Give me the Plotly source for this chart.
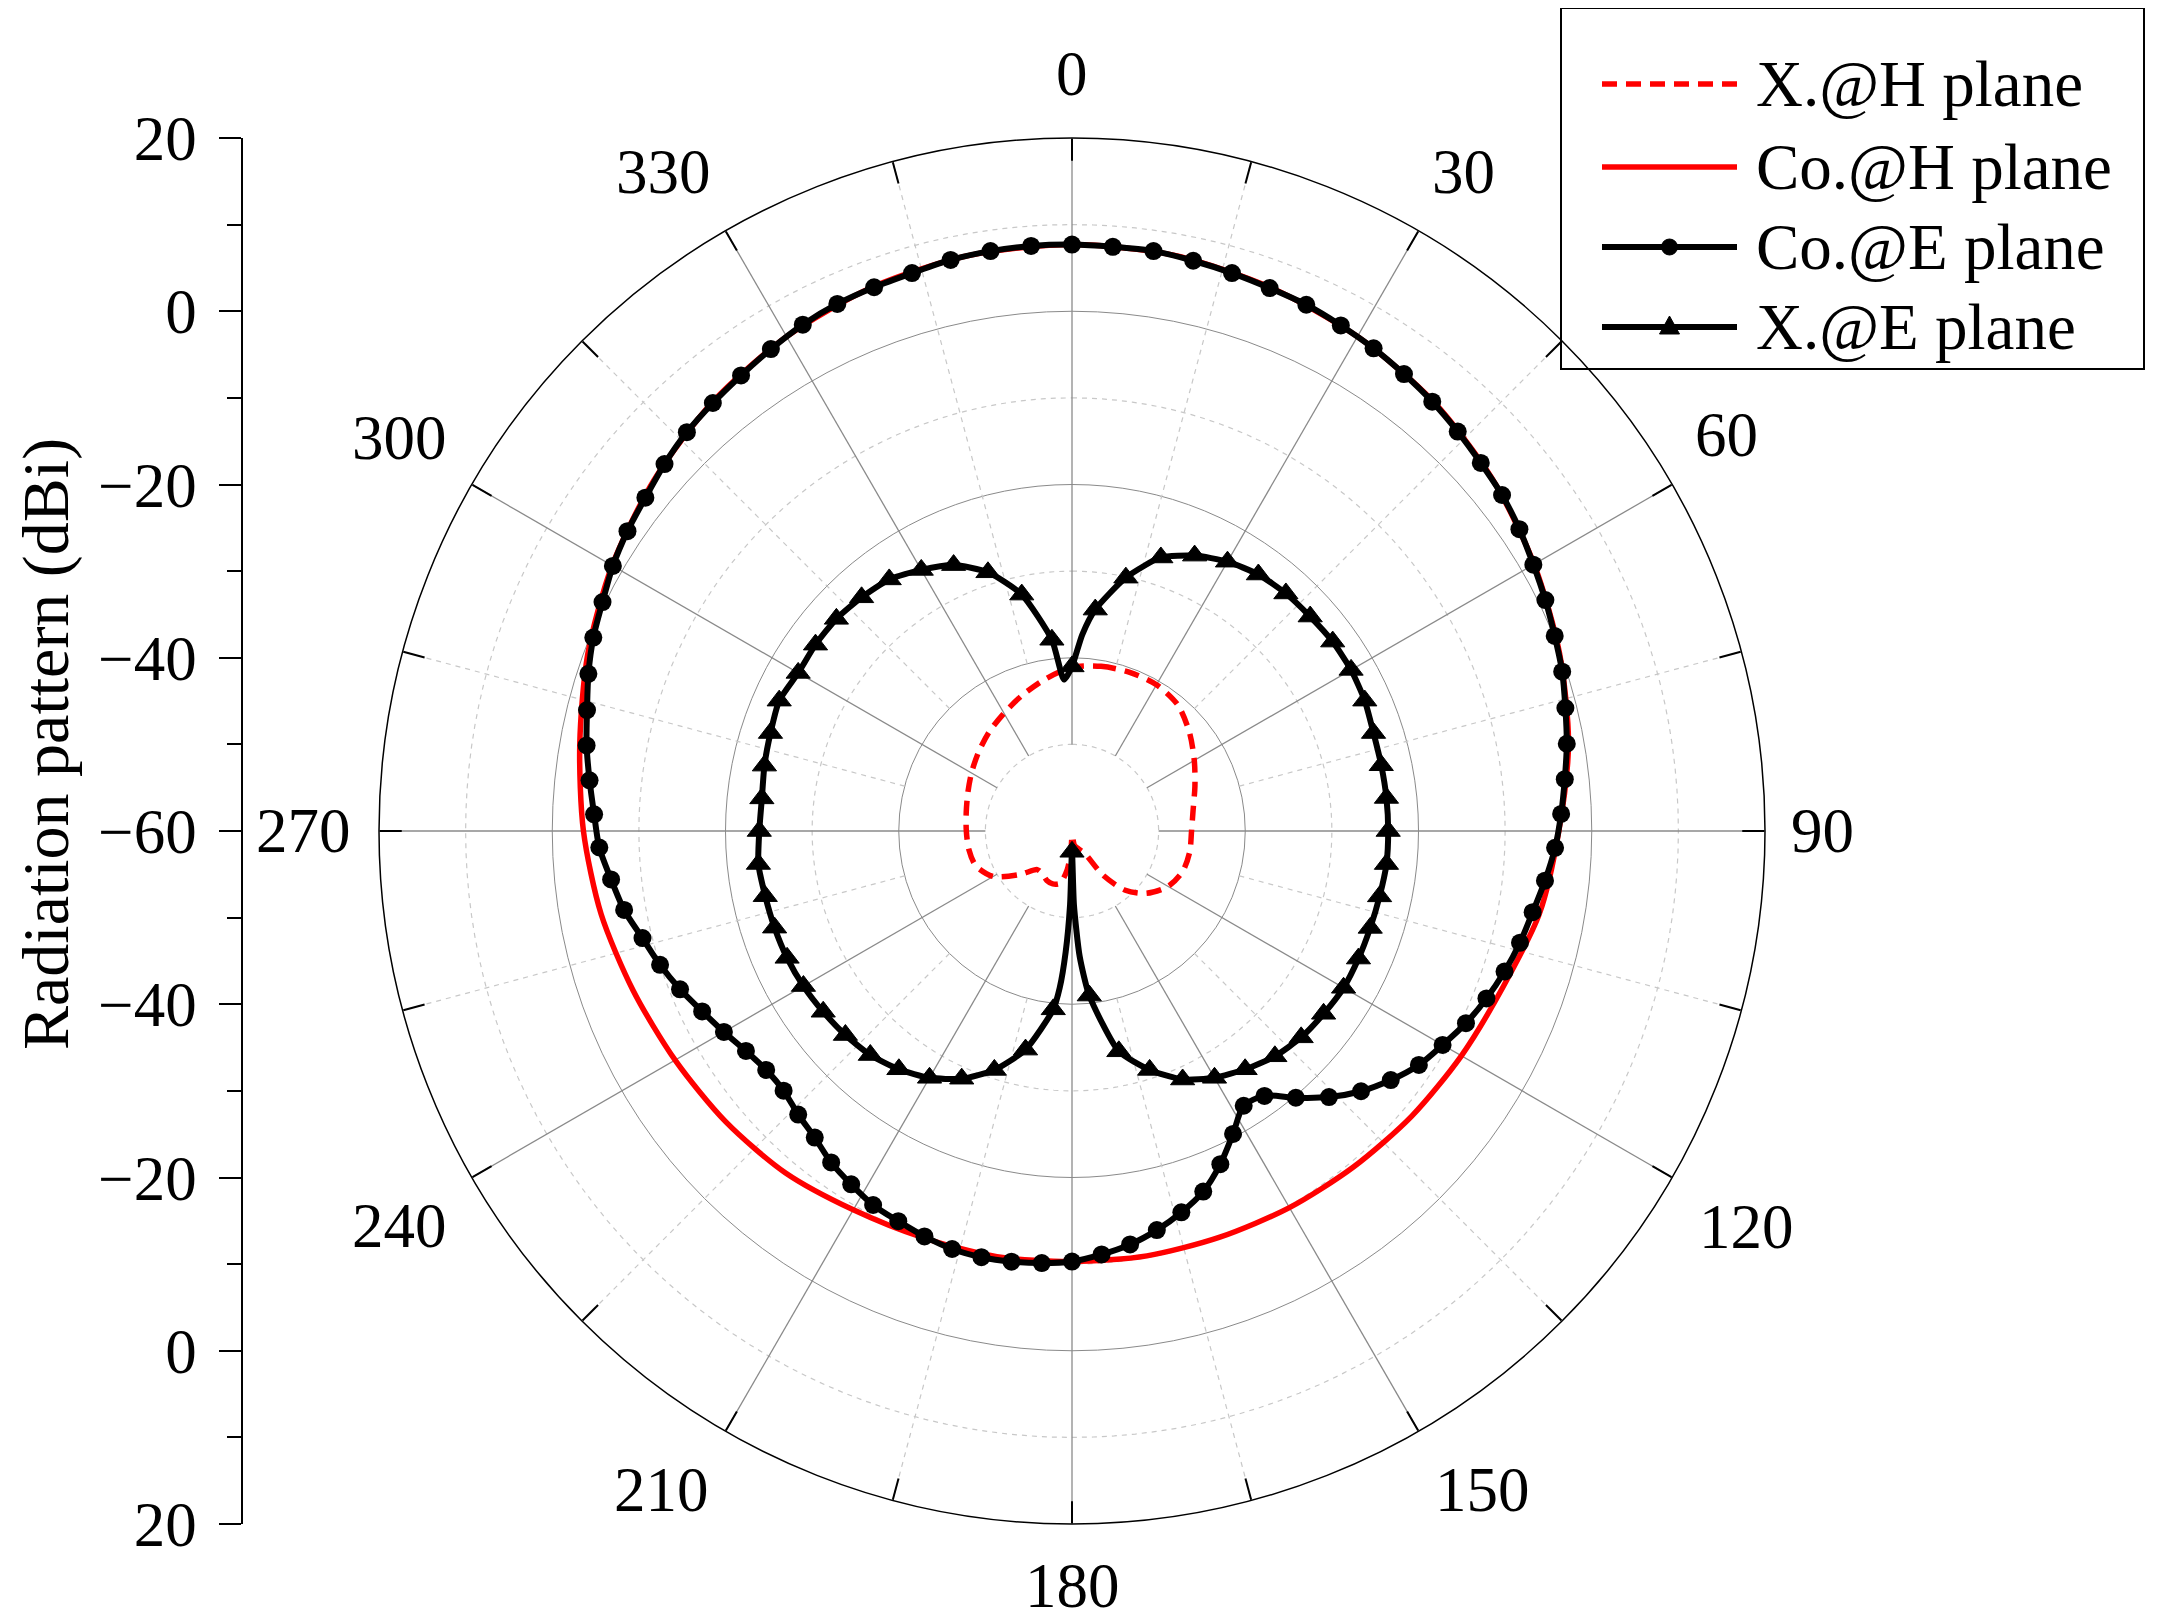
import math
import plotly.graph_objects as go

# ---- data ----
co_e_theta = list(range(0, 360, 4))
co_e_db = [7.7, 7.6, 7.6, 7.3, 7.0, 6.7, 6.5, 6.1, 5.7, 5.2, 4.7, 4.1, 3.5, 3.0, 2.3,
           1.5, 0.8, 0.1, -0.5, -1.3, -2.0, -2.8, -3.5, -4.2, -5.1, -6.0, -6.7, -7.5,
           -8.4, -9.4, -10.6, -11.7, -13.3, -15.1, -17.3, -19.8, -22.2, -22.6, -20.4,
           -17.9, -15.7, -14.2, -12.9, -11.8, -11.0, -10.3, -10.0, -9.8, -9.7, -9.8,
           -10.2, -10.7, -11.1, -11.9, -12.7, -13.8, -14.5, -15.2, -15.2, -14.6, -13.6,
           -12.5, -11.2, -10.0, -8.9, -7.5, -6.5, -5.4, -4.8, -4.0, -3.1, -2.3, -1.3,
           -0.4, 0.3, 1.2, 1.9, 2.5, 3.3, 4.0, 4.5, 5.0, 5.6, 6.2, 6.6, 6.8, 7.0, 7.4,
           7.6, 7.7]

x_e_theta = [0, 3, 6, 12, 18, 24, 30, 36, 42, 48, 54, 60, 66, 72, 78, 84, 90, 96, 102,
             108, 114, 120, 126, 132, 138, 144, 150, 156, 162, 168, 174, 176.5, 178.5,
             180, 181.5, 183, 184.5, 186, 192, 198, 204, 210, 216, 222, 228, 234, 240,
             246, 252, 258, 264, 270, 276, 282, 288, 294, 300, 306, 312, 318, 324, 330,
             336, 342, 348, 354, 357]
x_e_db = [-41.0, -37.3, -34.3, -30.1, -26.8, -25.2, -24.1, -23.4, -23.1, -23.0, -22.8,
          -22.8, -23.0, -23.4, -23.5, -23.5, -23.5, -23.5, -23.7, -23.8, -23.8, -23.8,
          -24.1, -24.4, -25.0, -26.0, -27.1, -28.6, -31.0, -34.0, -40.9, -45.5, -51.5,
          -57.6, -51.5, -46.0, -41.8, -39.3, -34.2, -31.0, -28.7, -27.1, -26.0, -25.2,
          -24.8, -24.5, -24.2, -24.0, -23.9, -23.8, -23.6, -23.9, -24.0, -23.7, -23.4,
          -23.0, -23.5, -23.4, -23.4, -23.7, -24.1, -25.2, -26.4, -28.6, -32.1, -37.8,
          -42.5]

co_h_theta = list(range(0, 360, 10))
co_h_db = [7.7, 7.5, 6.8, 5.9, 4.8, 3.3, 1.6, -0.1, -1.8, -3.8, -5.2, -7.1, -8.1, -8.8,
           -9.4, -9.8, -10.1, -10.2, -10.3, -10.1, -10.0, -9.5, -8.5, -7.8, -7.1, -6.1,
           -4.8, -3.6, -2.3, -0.5, 1.3, 3.0, 4.6, 5.9, 6.9, 7.5]

x_h_theta = [0, 10, 20, 30, 40, 50, 60, 70, 80, 90, 100, 110, 120, 130, 138, 145, 150,
             160, 170, 178, 183, 187, 193, 200, 207, 215, 222, 230, 240, 250, 260,
             270, 280, 290, 300, 310, 320, 330, 340, 350]
x_h_db = [-41.1, -40.7, -40.5, -40.5, -41.0, -42.3, -43.7, -44.9, -45.8, -46.2, -46.2,
          -46.4, -47.2, -48.8, -50.8, -53.8, -56.9, -57.8, -58.3, -59.5, -58.0, -55.5,
          -53.8, -53.5, -53.6, -54.0, -54.0, -52.2, -49.5, -48.2, -47.9, -47.8,
          -47.6, -47.2, -46.6, -45.9, -45.1, -44.3, -43.3, -42.2]

ruler_text = ["20", "0", "\u221220", "\u221240", "\u221260", "\u221240", "\u221220", "0", "20"]
angle_labels = [0, 30, 60, 90, 120, 150, 180, 210, 240, 270, 300, 330]
series_names = ["X.@H plane", "Co.@H plane", "Co.@E plane", "X.@E plane"]

# ---- layout constants (pixels, measured in the reference frame) ----
W, H = 2160, 1623
OFF = 8                      # page body margin shifts the figure by this much
CX, CY, R = 1072, 831, 693
ML = 192
MT = CY - OFF - R
MB = H - (CY - OFF + R)
PW, PH = W - ML, H - MT - MB
R_MIN, R_MAX = -60, 20
FONT = "Liberation Serif"
FS = 63
RED = "#ff0000"
GRID = "#8a8a8a"
GRID_LIGHT = "#c8c8c8"
DASH = "15px,9px"

# where the rim labels sit: (angle of label centre, distance from centre)
label_pos = {0: (0, 757), 30: (30.7, 766), 60: (58.8, 765), 90: (90, 750),
             120: (120.4, 782), 150: (148.1, 776), 180: (180, 755), 210: (211.9, 776),
             240: (239.6, 780), 270: (270, 769), 300: (300.3, 779), 330: (328.2, 775)}


def px_x(px):
    return (px - OFF - ML) / PW


def px_y(py):
    return 1 - (py - OFF - MT) / PH


def closed(theta, r):
    return list(theta) + [theta[0] + 360], list(r) + [r[0]]


fig = go.Figure()

# dashed grid circles and spokes (solid spokes start at -50, dashed at -40)
ring_theta = list(range(0, 361, 2))
for lev in [-50, -30, -10, 10]:
    fig.add_trace(go.Scatterpolar(r=[lev] * len(ring_theta), theta=ring_theta, mode="lines",
                                  line=dict(color=GRID_LIGHT, width=1.2, dash="5px,5px"),
                                  hoverinfo="skip", showlegend=False))
for a in range(0, 360, 30):
    fig.add_trace(go.Scatterpolar(r=[-50, R_MAX], theta=[a, a], mode="lines",
                                  line=dict(color=GRID, width=1.3),
                                  hoverinfo="skip", showlegend=False))
    fig.add_trace(go.Scatterpolar(r=[-40, R_MAX], theta=[a + 15, a + 15], mode="lines",
                                  line=dict(color=GRID_LIGHT, width=1.2, dash="5px,5px"),
                                  hoverinfo="skip", showlegend=False))

# data curves
t, r = closed(x_h_theta, x_h_db)
fig.add_trace(go.Scatterpolar(r=r, theta=t, mode="lines", name=series_names[0],
                              line=dict(color=RED, width=5.5, dash=DASH, shape="spline", smoothing=0.8),
                              showlegend=False))
t, r = closed(co_h_theta, co_h_db)
fig.add_trace(go.Scatterpolar(r=r, theta=t, mode="lines", name=series_names[1],
                              line=dict(color=RED, width=5.5, shape="spline", smoothing=0.8),
                              showlegend=False))

# X.@E: line through every point, triangles on the 6-degree samples
t, r = closed(x_e_theta, x_e_db)
fig.add_trace(go.Scatterpolar(r=r, theta=t, mode="lines", name=series_names[3],
                              line=dict(color="black", width=6, shape="spline", smoothing=0.6),
                              showlegend=False))
tri_t = [tt for tt in x_e_theta if tt % 6 == 0]
tri_r = [rr for tt, rr in zip(x_e_theta, x_e_db) if tt % 6 == 0]
fig.add_trace(go.Scatterpolar(r=tri_r, theta=tri_t, mode="markers", name=series_names[3],
                              marker=dict(symbol="triangle-up", size=21, color="black",
                                          line=dict(color="black", width=1)),
                              showlegend=False))

t, r = closed(co_e_theta, co_e_db)
fig.add_trace(go.Scatterpolar(r=r, theta=t, mode="lines", name=series_names[2],
                              line=dict(color="black", width=6, shape="spline", smoothing=0.8),
                              showlegend=False))
fig.add_trace(go.Scatterpolar(r=co_e_db, theta=co_e_theta, mode="markers", name=series_names[2],
                              marker=dict(symbol="circle", size=18, color="black"),
                              showlegend=False))

# empty trace so the left ruler axis gets drawn
fig.add_trace(go.Scatter(x=[], y=[], xaxis="x", yaxis="y", showlegend=False))

# rim labels
annotations = []
for a in angle_labels:
    ang, rl = label_pos[a]
    annotations.append(dict(text=str(a), x=px_x(CX + rl * math.sin(math.radians(ang))),
                            y=px_y(CY - rl * math.cos(math.radians(ang))),
                            xref="paper", yref="paper", xanchor="center", yanchor="middle",
                            showarrow=False, font=dict(family=FONT, size=FS, color="black")))

annotations.append(dict(text="Radiation pattern (dBi)", textangle=-90, x=px_x(46), y=px_y(744),
                        xref="paper", yref="paper", xanchor="center", yanchor="middle",
                        showarrow=False, font=dict(family=FONT, size=66, color="black")))

# hand-built legend
leg_rows = [84, 167, 247, 327]
LX0, LX1, LXT = 1602, 1737, 1754
LXM = (LX0 + LX1) / 2
shapes = [dict(type="rect", xref="paper", yref="paper", x0=px_x(1561), x1=px_x(2144),
               y0=px_y(369), y1=px_y(8), line=dict(color="black", width=2))]
line_styles = [dict(color=RED, width=5.5, dash=DASH), dict(color=RED, width=5.5),
               dict(color="black", width=6), dict(color="black", width=6)]
for ry, st, name in zip(leg_rows, line_styles, series_names):
    shapes.append(dict(type="line", xref="paper", yref="paper", x0=px_x(LX0), x1=px_x(LX1),
                       y0=px_y(ry), y1=px_y(ry), line=st))
    annotations.append(dict(text=name, x=px_x(LXT), y=px_y(ry), xref="paper", yref="paper",
                            xanchor="left", yanchor="middle", showarrow=False,
                            font=dict(family=FONT, size=65, color="black")))
ry = leg_rows[2]
shapes.append(dict(type="circle", xref="paper", yref="paper", x0=px_x(LXM - 8), x1=px_x(LXM + 8),
                   y0=px_y(ry + 8), y1=px_y(ry - 8), fillcolor="black", line=dict(color="black", width=1)))
ry = leg_rows[3]
tri = [(LXM, ry - 11), (LXM - 10, ry + 7), (LXM + 10, ry + 7)]
path = "M " + " L ".join(f"{px_x(x):.5f},{px_y(y):.5f}" for x, y in tri) + " Z"
shapes.append(dict(type="path", xref="paper", yref="paper", path=path, fillcolor="black",
                   line=dict(color="black", width=1)))

ang_vals = list(range(0, 360, 15))
fig.update_layout(
    width=W, height=H,
    margin=dict(l=ML, r=0, t=MT, b=MB, autoexpand=False),
    paper_bgcolor="white", plot_bgcolor="rgba(0,0,0,0)",
    font=dict(family=FONT, size=FS, color="black"),
    polar=dict(
        domain=dict(x=[px_x(CX - R), px_x(CX + R)], y=[0, 1]),
        bgcolor="white",
        radialaxis=dict(range=[R_MIN, R_MAX], tickvals=[-40, -20, 0], showticklabels=False,
                        ticks="", showline=False, gridcolor=GRID, gridwidth=1.3),
        angularaxis=dict(rotation=90, direction="clockwise", tickvals=ang_vals,
                         showticklabels=False,
                         ticks="inside", ticklen=22, tickwidth=1.5, tickcolor="black",
                         showgrid=False, showline=True, linecolor="black", linewidth=1.5),
    ),
    xaxis=dict(domain=[px_x(242), px_x(250)], visible=False, range=[0, 1]),
    yaxis=dict(anchor="free", position=px_x(242), side="left", domain=[0, 1],
               range=[-80, 80], tickvals=list(range(-80, 81, 20)), ticktext=ruler_text,
               ticks="outside", ticklen=22, tickwidth=1.5, tickcolor="black",
               showline=True, linecolor="black", linewidth=1.5, showgrid=False, zeroline=False,
               minor=dict(tick0=-80, dtick=10, ticks="outside", ticklen=14, tickwidth=1.5,
                          tickcolor="black", showgrid=False),
               tickfont=dict(family=FONT, size=FS, color="black"), ticklabelstandoff=10),
    shapes=shapes,
    annotations=annotations,
    showlegend=False,
)

fig.write_html("out.html")
